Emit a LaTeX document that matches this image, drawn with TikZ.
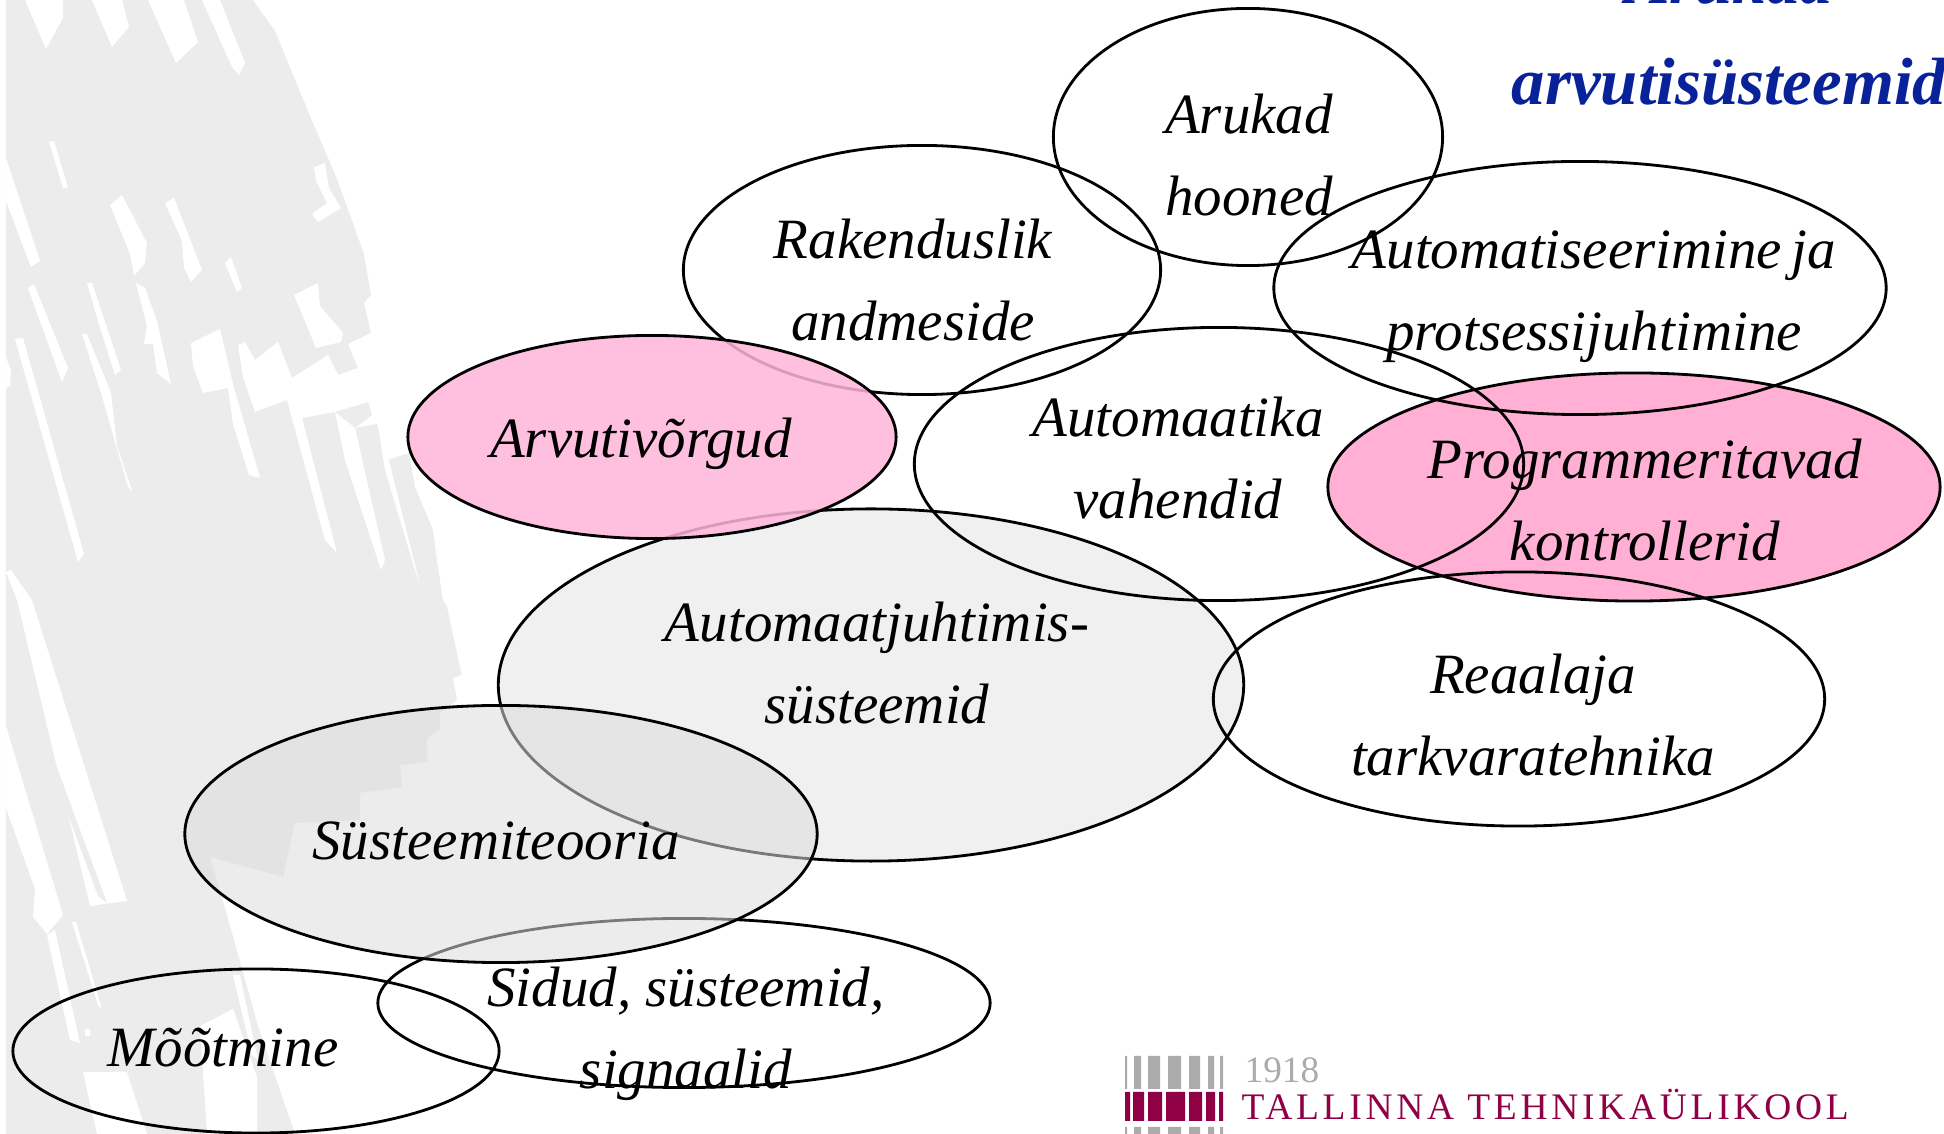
\documentclass[tikz,border=0pt]{standalone}
\usepackage{fontspec}
\setmainfont{Liberation Serif}
\newfontfamily\logofont[LetterSpace=10]{Liberation Serif}
\usetikzlibrary{shapes.geometric}
\definecolor{bggray}{HTML}{ECECEC}
\definecolor{pinkA}{HTML}{FFB5DB}
\definecolor{pinkB}{HTML}{FFB0D4}
\definecolor{softgray}{HTML}{F0F0F0}
\definecolor{overgray}{HTML}{DDDDDD}
\definecolor{titleblue}{HTML}{0A2299}
\definecolor{logogray}{HTML}{ABABAB}
\definecolor{logored}{HTML}{8F0044}
\tikzstyle{bub}=[ellipse,draw=black,line width=.8pt,inner sep=0,outer sep=0]
\tikzstyle{lab}=[align=center,inner sep=0,font=\fontsize{16.2}{23.44}\selectfont\itshape]
\newcommand{\twol}[2]{\strut #1\\\strut #2}

\begin{document}
\begin{tikzpicture}[x=.01cm,y=-.01cm]
\useasboundingbox (0,0) rectangle (1944,1134);
% backdrop
\fill[bggray] (6,0)--(253,0)--(275,31)--(310,116)--(337,179)--(364,254)--(371,295)--(364,303)--(371,333)--(348,344)--(358,368)--(372,415)--(355,428)--(377,424)--(388,460)--(409,453)--(415,487)--(433,530)--(447,607)--(460,667)--(462,675)--(453,678)--(457,700)--(440,713)--(440,730)--(427,738)--(427,762)--(400,765)--(402,787)--(360,793)--(360,820)--(295,823)--(283,877)--(210,857)--(225,908)--(258,1026)--(295,1134)--(6,1134)--cycle;
\fill[white] (25,0)--(63,0)--(63,18)--(46,49)--cycle
 (92,0)--(122,0)--(129,27)--(112,47)--cycle
 (148,0)--(184,0)--(198,42)--(176,63)--cycle
 (202,0)--(220,0)--(245,63)--(239,75)--(232,67)--cycle
 (49,142)--(54,141)--(68,188)--(63,188)--cycle
 (110,205)--(122,195)--(147,243)--(145,263)--(134,276)--(130,254)--cycle
 (165,203)--(174,198)--(202,270)--(191,282)--(184,268)--(182,241)--cycle
 (225,263)--(231,257)--(242,288)--(237,292)--cycle
 (314,167)--(325,163)--(329,188)--(341,208)--(318,222)--(312,214)--(327,203)--(316,181)--cycle
 (294,295)--(318,283)--(320,306)--(343,333)--(341,342)--(316,348)--cycle
 (6,158)--(40,261)--(31,267)--(6,201)--cycle
 (28,288)--(34,284)--(68,368)--(62,382)--cycle
 (87,283)--(92,283)--(121,370)--(115,375)--(98,321)--cycle
 (136,283)--(145,288)--(157,321)--(171,384)--(157,373)--(153,344)--(144,344)--(147,326)--cycle
 (82,334)--(87,334)--(111,393)--(117,446)--(132,491)--(128,487)--(101,393)--cycle
 (15,339)--(23,338)--(84,554)--(78,562)--cycle
 (6,357)--(11,371)--(10,386)--(6,388)--cycle
 (191,343)--(220,329)--(233,384)--(260,478)--(249,475)--(233,424)--(228,388)--(203,393)--(193,366)--cycle
 (238,345)--(245,342)--(255,360)--(278,342)--(292,378)--(328,355)--(338,375)--(358,368)--(375,400)--(335,412)--(302,418)--(337,553)--(325,540)--(287,400)--(255,412)--(243,377)--cycle
 (335,412)--(355,428)--(385,560)--(381,570)--(345,460)--cycle
 (378,425)--(388,457)--(420,585)--(415,570)--(385,470)--cycle
 (433,530)--(442,577)--(447,607)--(443,600)--(437,560)--cycle
 (6,572)--(11,570)--(32,600)--(127,901)--(90,906)--(17,600)--cycle
 (6,726)--(63,915)--(47,934)--(33,917)--(35,889)--(6,808)--cycle
 (47,935)--(55,930)--(80,1043)--(70,1040)--cycle
 (72,922)--(76,922)--(102,1009)--(98,1005)--cycle
 (85,1029)--(90,1029)--(90,1036)--(85,1036)--cycle
 (233,975)--(240,975)--(258,1060)--(252,1055)--cycle
 (200,1026)--(233,1009)--(257,1077)--(257,1134)--(207,1134)--cycle
 (83,1072)--(127,1072)--(147,1134)--(97,1134)--cycle;
\fill[bggray] (23,692)--(28,689)--(107,903)--(98,896)--cycle;
% logo
\fill[logogray] (1125,1056) rectangle (1127,1089) (1134,1056) rectangle (1141,1089) (1148,1056) rectangle (1160,1089) (1168,1056) rectangle (1181,1089) (1189,1056) rectangle (1200,1089) (1208,1056) rectangle (1214,1089) (1220,1056) rectangle (1223,1089);
\fill[logogray] (1125,1127) rectangle (1127,1134) (1134,1127) rectangle (1141,1134) (1148,1127) rectangle (1160,1134) (1168,1127) rectangle (1181,1134) (1189,1127) rectangle (1200,1134) (1208,1127) rectangle (1214,1134) (1220,1127) rectangle (1223,1134);
\fill[logored] (1125,1092) rectangle (1130,1121) (1133,1092) rectangle (1144,1121) (1148,1092) rectangle (1162,1121) (1166,1092) rectangle (1185,1121) (1189,1092) rectangle (1202,1121) (1206,1092) rectangle (1215,1121) (1219,1092) rectangle (1223,1121);
\node (year) at (1244,1083)[anchor=base west,inner sep=0,text=logogray,font=\fontsize{10.6}{13}\selectfont]{1918};
\node (school) at (1241,1120)[anchor=base west,inner sep=0,text=logored,font=\fontsize{10.65}{13}\logofont]{TALLINNA TEHNIKAÜLIKOOL};
% bubbles, lowest first
\node (juht) at (871,685)[bub,fill=softgray,minimum width=7.45cm,minimum height=3.52cm]{};
\node (sidud) at (684,1003)[bub,minimum width=6.12cm,minimum height=1.69cm]{};
\node (prog) at (1634,487)[bub,fill=pinkB,minimum width=6.12cm,minimum height=2.28cm]{};
\node (aruk) at (1248,137)[bub,minimum width=3.89cm,minimum height=2.57cm]{};
\node (rak) at (922,270)[bub,minimum width=4.77cm,minimum height=2.49cm]{};
\node (autom) at (1580,288)[bub,minimum width=6.12cm,minimum height=2.53cm]{};
\node (vahend) at (1219,464)[bub,minimum width=6.09cm,minimum height=2.73cm]{};
\node (reaal) at (1519,699)[bub,minimum width=6.11cm,minimum height=2.54cm]{};
\node (vork) at (652,437)[bub,fill=pinkA,fill opacity=.85,minimum width=4.88cm,minimum height=2.03cm]{};
\node (teooria) at (501,834)[bub,fill=overgray,fill opacity=.55,minimum width=6.32cm,minimum height=2.57cm]{};
\node (moot) at (256,1051)[bub,minimum width=4.86cm,minimum height=1.64cm]{};
% texts
\node (laruk) at (1249,158)[lab]{\twol{Arukad}{hooned}};
\node (lrak) at (913,283)[lab]{\twol{Rakenduslik}{andmeside}};
\node (lautom) at (1594,293)[lab]{\twol{Automatiseerimine\hspace{.17em}ja}{protsessijuhtimine}};
\node (lvork) at (641,441)[lab]{\strut Arvutivõrgud};
\node (lvahend) at (1178,461)[lab]{\twol{Automaatika}{vahendid}};
\node (lprog) at (1645,503)[lab]{\twol{Programmeritavad}{kontrollerid}};
\node (ljuht) at (877,666)[lab]{\twol{Automaatjuhtimis-}{süsteemid}};
\node (lreaal) at (1533,718)[lab]{\twol{Reaalaja}{tarkvaratehnika}};
\node (lteooria) at (496,843)[lab]{\strut Süsteemiteooria};
\node (lsidud) at (686,1031)[lab]{\twol{Sidud, süsteemid,}{signaalid}};
\node (lmoot) at (223,1050)[lab]{\strut Mõõtmine};
\node (title) at (1729,34)[align=center,inner sep=0,text=titleblue,font=\fontsize{19}{28.45}\selectfont\bfseries\itshape]{\twol{Arukad}{arvutisüsteemid}};
\end{tikzpicture}
\end{document}
